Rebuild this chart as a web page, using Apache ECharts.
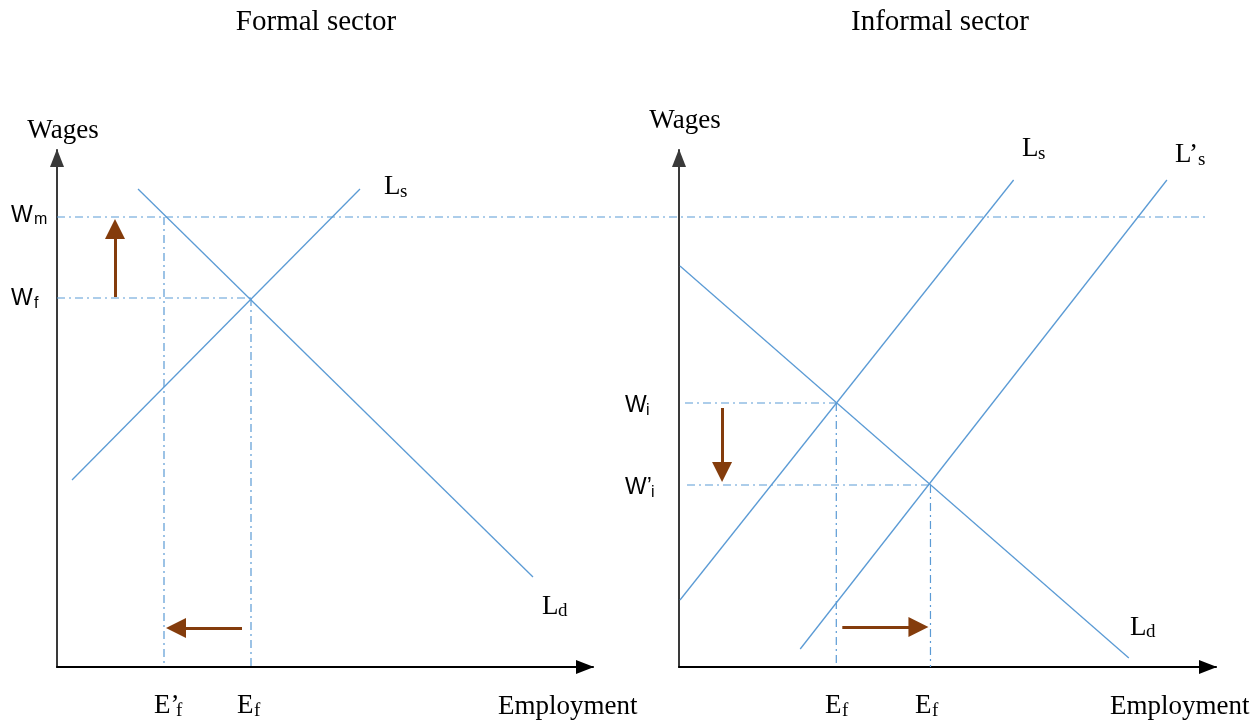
<!DOCTYPE html>
<html><head><meta charset="utf-8">
<script src="https://cdn.jsdelivr.net/npm/echarts@6/dist/echarts.min.js"></script>
<style>html,body{margin:0;padding:0;background:#fff}#c{width:1258px;height:724px}</style>
</head><body><div id="c"></div>
<script>
// Formal sector (left panel): [employment, wage]
const lsFormal = [[15,187],[303,478]];
const ldFormal = [[81,478],[476,90]];
const wageMin = 450;          // W_m level (extends across both panels)
const wageMinSpan = [0,1150]; // from left wage axis to the far right
const wageFormal = 369;       // W_f
const empFormal = 194;        // E_f
const empFormalNew = 107;     // E'_f
const arrowUp = [[58,370],[58,438]];
const arrowLeft = [[185,39],[119,39]];
// Informal sector (right panel)
const lsInformal = [[1,67],[334,487]];
const lsInformalNew = [[121,18],[487,487]];
const ldInformal = [[1,401],[449,9]];
const wageInformal = 264;     // W_i
const wageInformalNew = 182;  // W'_i
const empInformal = 157;
const empInformalNew = 251;
const arrowDown = [[43,259],[43,195]];
const arrowRight = [[163,40],[239,40]];

const BLUE = '#5B9BD5', DASH = '#5B9BD5', BROWN = '#843C0C';
const dashDot = [8,4,2,4];
const SERIF = '"Liberation Serif","DejaVu Serif",serif';
const SANS = '"Liberation Sans",Arial,sans-serif';

function axisX(i){return {gridIndex:i,type:'value',min:0,max:536,axisLine:{show:true,onZero:false,symbol:['none','triangle'],symbolSize:[14,18],symbolOffset:[0,-8],lineStyle:{color:'#000',width:2}},axisTick:{show:false},axisLabel:{show:false},splitLine:{show:false}};}
function axisY(i){return {gridIndex:i,type:'value',min:0,max:517,axisLine:{show:true,onZero:false,symbol:['none','triangle'],symbolSize:[14,18],symbolOffset:[0,-8],lineStyle:{color:'#3a3a3a',width:2}},axisTick:{show:false},axisLabel:{show:false},splitLine:{show:false}};}
function solid(data,g){return {type:'line',xAxisIndex:g,yAxisIndex:g,data:data,symbol:'none',silent:true,clip:false,lineStyle:{color:BLUE,width:1.3},z:3};}
function dashed(data,g){return {type:'line',xAxisIndex:g,yAxisIndex:g,data:data,symbol:'none',silent:true,clip:false,lineStyle:{color:DASH,width:1.2,type:dashDot},z:2};}
function arrow(data,g){return {type:'lines',coordinateSystem:'cartesian2d',xAxisIndex:g,yAxisIndex:g,silent:true,symbol:['none','triangle'],symbolSize:[0,20],lineStyle:{color:BROWN,width:3,opacity:1},data:[{coords:data}],z:4};}

const series = [
  solid(lsFormal,0), solid(ldFormal,0),
  dashed([[wageMinSpan[0],wageMin],[wageMinSpan[1],wageMin]],2),
  dashed([[0,wageFormal],[empFormal,wageFormal]],0),
  dashed([[empFormal,wageFormal],[empFormal,0]],0),
  dashed([[empFormalNew,wageMin],[empFormalNew,0]],0),
  arrow(arrowUp,0), arrow(arrowLeft,0),
  solid(lsInformal,1), solid(lsInformalNew,1), solid(ldInformal,1),
  dashed([[6,wageInformal],[empInformal,wageInformal]],1),
  dashed([[8,wageInformalNew],[empInformalNew,wageInformalNew]],1),
  dashed([[empInformal,wageInformal],[empInformal,0]],1),
  dashed([[empInformalNew,wageInformalNew],[empInformalNew,0]],1),
  arrow(arrowDown,1), arrow(arrowRight,1)
];

function t(x,y,text,size,font,align){return {type:'text',x:x,y:y,style:{text:text,font:size+'px '+font,fill:'#000',textAlign:align||'left',textVerticalAlign:'middle'}};}
const graphics = [
  t(316,22,'Formal sector',29,SERIF,'center'),
  t(940,22,'Informal sector',29,SERIF,'center'),
  t(63,131,'Wages',27,SERIF,'center'),
  t(685,121,'Wages',27,SERIF,'center'),
  t(11,216,'W',23,SANS), t(34,220,'m',16,SANS),
  t(11,299,'W',23,SANS), t(34,304,'f',16,SANS),
  t(384,187,'L',27,SERIF), t(400,192,'s',19,SERIF),
  t(542,607,'L',27,SERIF), t(558,611,'d',19,SERIF),
  t(154,706,'E’',27,SERIF), t(176,711,'f',19,SERIF),
  t(237,706,'E',27,SERIF), t(254,711,'f',19,SERIF),
  t(498,707,'Employment',27,SERIF),
  t(625,406,'W',23,SANS), t(646,411,'i',16,SANS),
  t(625,488,'W’',23,SANS), t(651,493,'i',16,SANS),
  t(1022,149,'L',27,SERIF), t(1038,154,'s',19,SERIF),
  t(1175,155,'L’',27,SERIF), t(1198,160,'s',19,SERIF),
  t(1130,628,'L',27,SERIF), t(1146,632,'d',19,SERIF),
  t(825,706,'E',27,SERIF), t(842,711,'f',19,SERIF),
  t(915,706,'E',27,SERIF), t(932,711,'f',19,SERIF),
  t(1110,707,'Employment',27,SERIF)
];

const hiddenAxis = {show:false};
const chart = echarts.init(document.getElementById('c'));
chart.setOption({
  animation:false,
  backgroundColor:'#fff',
  grid:[{left:57,top:150,width:536,height:517},{left:679,top:150,width:537,height:517},{left:57,top:150,width:1150,height:517}],
  xAxis:[axisX(0),axisX(1),Object.assign({gridIndex:2,type:'value',min:0,max:1150},hiddenAxis)],
  yAxis:[axisY(0),axisY(1),Object.assign({gridIndex:2,type:'value',min:0,max:517},hiddenAxis)],
  series:series,
  graphic:graphics
});
</script></body></html>
